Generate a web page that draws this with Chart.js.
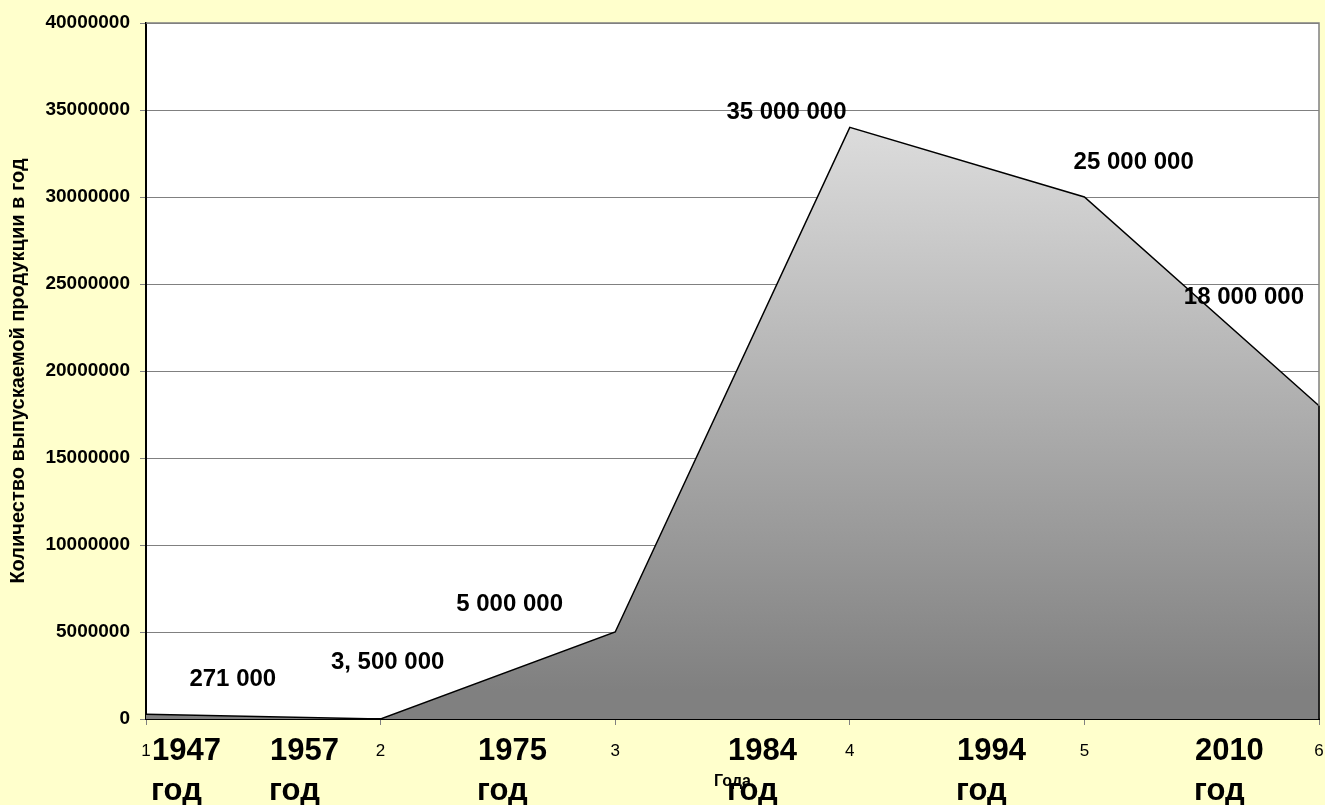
<!DOCTYPE html>
<html>
<head>
<meta charset="utf-8">
<script src="https://cdn.jsdelivr.net/npm/chart.js@4.4.0/dist/chart.umd.min.js"></script>
<style>
  html, body { margin: 0; padding: 0; background: #FFFFCC; }
  #wrap { width: 1325px; height: 805px; }
</style>
</head>
<body>
<div id="wrap"><canvas id="prodChart" width="1325" height="805"></canvas></div>
<script>
// data
var categories = ['1', '2', '3', '4', '5', '6'];
var output     = [271000, 3500, 5000000, 34000000, 30000000, 18000000];
var yTicks     = [0, 5000000, 10000000, 15000000, 20000000, 25000000, 30000000, 35000000, 40000000];

// text boxes on the slide
var valueTexts = ['271 000', '3, 500 000', '5 000 000', '35 000 000', '25 000 000', '18 000 000'];
var valueAtX   = [1.37, 2.03, 2.55, 3.73, 5.21, 5.68];
var valueAtY   = [2270000, 3280000, 6610000, 34860000, 31980000, 24250000];

var years      = ['1947', '1957', '1975', '1984', '1994', '2010'];
var yearAtX    = [1.026, 1.529, 2.415, 3.481, 4.457, 5.471];

var FONT = 'Arial, "Liberation Sans", sans-serif';

var slidePlugin = {
  id: 'slide',
  beforeDraw: function(chart) {
    var c = chart.ctx, a = chart.chartArea;
    c.save();
    c.fillStyle = '#FFFFCC';
    c.fillRect(0, 0, chart.width, chart.height);
    c.fillStyle = '#FFFFFF';
    c.fillRect(a.left, a.top, a.right - a.left, a.bottom - a.top);
    c.restore();
  },
  afterDatasetsDraw: function(chart) {
    var c = chart.ctx, a = chart.chartArea;
    var xs = chart.scales.x, ys = chart.scales.y;
    c.save();
    // plot area border
    c.strokeStyle = '#808080';
    c.lineWidth = 1.5;
    c.beginPath();
    c.moveTo(a.left, a.top);
    c.lineTo(a.right, a.top);
    c.lineTo(a.right, a.bottom);
    c.stroke();
    // closing edge of the area
    var last = output.length - 1;
    c.strokeStyle = '#000';
    c.beginPath();
    c.moveTo(xs.getPixelForValue(last), ys.getPixelForValue(output[last]));
    c.lineTo(xs.getPixelForValue(last), ys.getPixelForValue(0));
    c.stroke();

    c.fillStyle = '#000';
    c.font = 'bold 24px ' + FONT;
    c.textAlign = 'center';
    c.textBaseline = 'middle';
    valueTexts.forEach(function(t, i) {
      var px = xs.getPixelForValue(valueAtX[i] - 1);
      c.fillText(t, px, ys.getPixelForValue(valueAtY[i]));
    });

    c.font = 'bold 31px ' + FONT;
    c.textAlign = 'left';
    c.textBaseline = 'alphabetic';
    years.forEach(function(y, i) {
      var px = xs.getPixelForValue(yearAtX[i] - 1);
      c.fillText(y, px, a.bottom + 41);
      c.fillText('год', px - 1, a.bottom + 81);
    });
    c.restore();
  }
};

var ctx = document.getElementById('prodChart').getContext('2d');

var prodChart = new Chart(ctx, {
  type: 'line',
  data: {
    labels: categories,
    datasets: [{
      data: output,
      borderColor: '#000',
      borderWidth: 1.5,
      pointRadius: 0,
      tension: 0,
      fill: 'origin',
      backgroundColor: function(context) {
        var chart = context.chart;
        var a = chart.chartArea;
        if (!a) return '#aaa';
        var top = chart.scales.y.getPixelForValue(34000000);
        var g = chart.ctx.createLinearGradient(0, top, 0, a.bottom - 28);
        g.addColorStop(0, '#DCDCDC');
        g.addColorStop(1, '#808080');
        return g;
      }
    }]
  },
  options: {
    responsive: false,
    animation: false,
    layout: { padding: { top: 23, right: 6, left: 0, bottom: 0 } },
    plugins: { legend: { display: false }, tooltip: { enabled: false } },
    scales: {
      x: {
        offset: false,
        afterFit: function(scale) { scale.height = 86; scale.paddingRight = 0; scale.paddingLeft = 0; },
        grid: { display: true, drawOnChartArea: false, color: '#808080', tickLength: 6, lineWidth: 1 },
        border: { color: '#000', width: 2 },
        ticks: { color: '#000', font: { family: FONT, size: 17 }, padding: 16, maxRotation: 0, autoSkip: false },
        title: { display: true, text: 'Года', color: '#000', font: { family: FONT, size: 16, weight: 'bold' }, padding: { top: 0, bottom: 14 } }
      },
      y: {
        min: 0,
        max: 40000000,
        afterFit: function(scale) { scale.width = 146; },
        afterBuildTicks: function(scale) { scale.ticks = yTicks.map(function(v) { return { value: v }; }); },
        grid: { color: '#808080', tickLength: 6, lineWidth: 1 },
        border: { color: '#000', width: 2 },
        ticks: { color: '#000', font: { family: FONT, size: 19, weight: 'bold' }, padding: 10,
                 callback: function(v) { return String(v); } },
        title: { display: true, text: 'Количество выпускаемой продукции в год', color: '#000',
                 font: { family: FONT, size: 20, weight: 'bold' }, padding: { top: 6, bottom: 0 } }
      }
    }
  },
  plugins: [slidePlugin]
});
</script>
</body>
</html>
